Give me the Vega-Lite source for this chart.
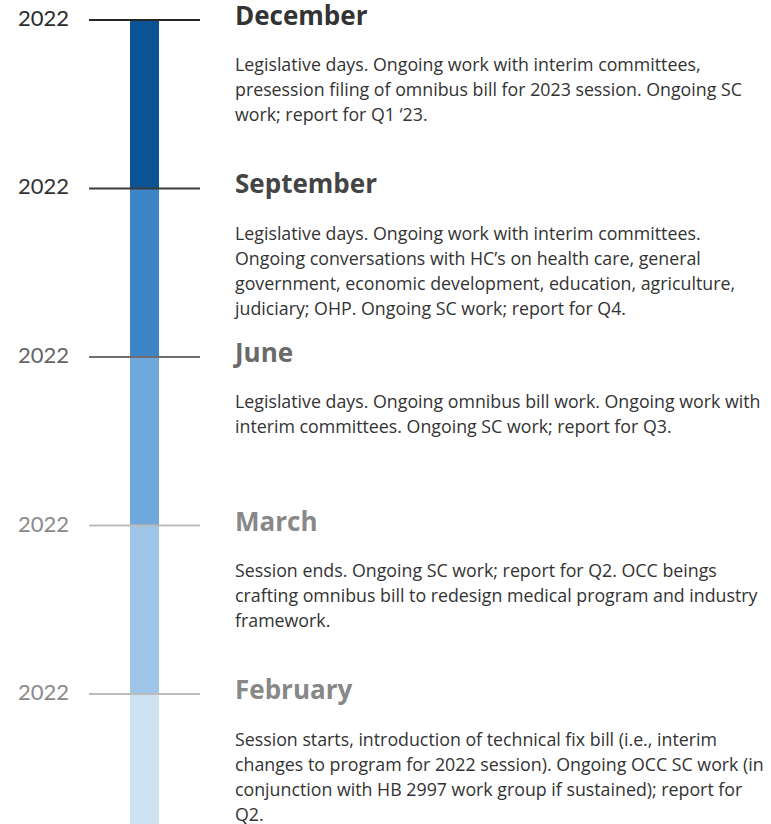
{
  "$schema": "https://vega.github.io/schema/vega-lite/v6.json",
  "width": 771,
  "height": 824,
  "autosize": {"type": "none"},
  "padding": 0,
  "background": "white",
  "config": {"view": {"stroke": null}, "font": "Lato"},
  "data": {
    "values": [
      {"month": "December", "year": "2022", "order": 0, "end": 1, "desc": ["Legislative days. Ongoing work with interim committees,", "presession filing of omnibus bill for 2023 session. Ongoing SC", "work; report for Q1 ‘23."]},
      {"month": "September", "year": "2022", "order": 1, "end": 2, "desc": ["Legislative days. Ongoing work with interim committees.", "Ongoing conversations with HC’s on health care, general", "government, economic development, education, agriculture,", "judiciary; OHP. Ongoing SC work; report for Q4."]},
      {"month": "June", "year": "2022", "order": 2, "end": 3, "desc": ["Legislative days. Ongoing omnibus bill work. Ongoing work with", "interim committees. Ongoing SC work; report for Q3."]},
      {"month": "March", "year": "2022", "order": 3, "end": 4, "desc": ["Session ends. Ongoing SC work; report for Q2. OCC beings", "crafting omnibus bill to redesign medical program and industry", "framework."]},
      {"month": "February", "year": "2022", "order": 4, "end": 5, "desc": ["Session starts, introduction of technical fix bill (i.e., interim", "changes to program for 2022 session). Ongoing OCC SC work (in", "conjunction with HB 2997 work group if sustained); report for", "Q2."]}
    ]
  },
  "layer": [
    {
      "mark": {"type": "rect", "clip": true},
      "encoding": {
        "x": {"datum": 130, "type": "quantitative", "scale": {"domain": [0, 771], "nice": false, "zero": false}, "axis": null},
        "x2": {"datum": 159},
        "y": {"field": "order", "type": "quantitative", "scale": {"domain": [-0.11869, 4.77151], "reverse": true, "zero": false, "nice": false}, "axis": null},
        "y2": {"field": "end"},
        "color": {"field": "month", "type": "nominal", "scale": {"domain": ["December", "September", "June", "March", "February"], "range": ["#0b5394", "#3d85c6", "#6fa8dc", "#9fc5e8", "#cfe2f3"]}, "legend": null}
      }
    },
    {
      "mark": {"type": "rule", "strokeWidth": 2},
      "encoding": {
        "x": {"datum": 89, "type": "quantitative"},
        "x2": {"datum": 200},
        "y": {"field": "order", "type": "quantitative"},
        "color": {"field": "month", "type": "nominal", "scale": {"domain": ["December", "September", "June", "March", "February"], "range": ["#262626", "#3a3a3a", "#6e6e6e", "#bcbcbc", "#bcbcbc"]}, "legend": null}
      }
    },
    {
      "mark": {"type": "text", "align": "left", "baseline": "alphabetic", "dy": 6, "fontSize": 22},
      "encoding": {
        "x": {"datum": 18, "type": "quantitative"},
        "y": {"field": "order", "type": "quantitative"},
        "text": {"field": "year"},
        "color": {"field": "month", "type": "nominal", "scale": {"domain": ["December", "September", "June", "March", "February"], "range": ["#2b2b2b", "#333333", "#666666", "#8a8a8a", "#8a8a8a"]}, "legend": null}
      }
    },
    {
      "mark": {"type": "text", "align": "left", "baseline": "alphabetic", "dy": 5, "fontSize": 26, "fontWeight": "bold", "font": "Open Sans"},
      "encoding": {
        "x": {"datum": 235, "type": "quantitative"},
        "y": {"field": "order", "type": "quantitative"},
        "text": {"field": "month"},
        "color": {"field": "month", "type": "nominal", "scale": {"domain": ["December", "September", "June", "March", "February"], "range": ["#333333", "#444444", "#6a6a6a", "#888888", "#888888"]}, "legend": null}
      }
    },
    {
      "mark": {"type": "text", "align": "left", "baseline": "alphabetic", "dy": 51.5, "fontSize": 17.8, "lineHeight": 25, "color": "#333333", "font": "Open Sans"},
      "encoding": {
        "x": {"datum": 235, "type": "quantitative"},
        "y": {"field": "order", "type": "quantitative"},
        "text": {"field": "desc"}
      }
    }
  ],
  "resolve": {"scale": {"color": "independent"}}
}
